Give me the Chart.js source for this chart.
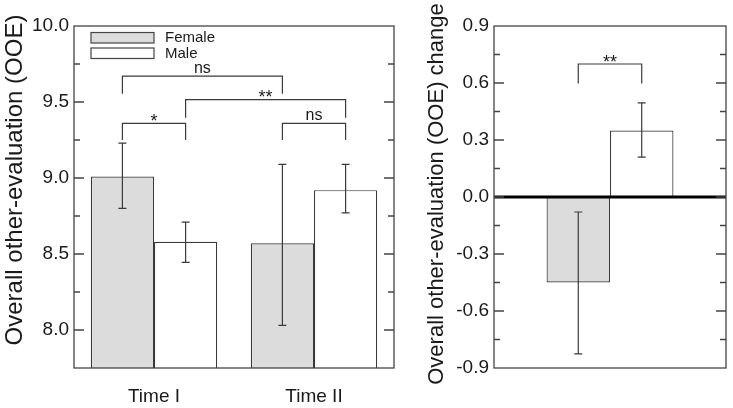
<!DOCTYPE html>
<html>
<head>
<meta charset="utf-8">
<script src="https://cdn.jsdelivr.net/npm/chart.js@4/dist/chart.umd.min.js"></script>
<style>
  body { margin: 0; background: #fff; }
  #wrap { position: relative; width: 733px; height: 408px; }
  #left { position: absolute; left: 0; top: 0; }
  #right { position: absolute; left: 400px; top: 0; }
</style>
</head>
<body>
<div id="wrap">
  <canvas id="left" width="400" height="408"></canvas>
  <canvas id="right" width="333" height="408"></canvas>
</div>
<script>
// --- data ---
const categories = ['Time I', 'Time II'];
const femaleOOE = [9.01, 8.57];
const maleOOE = [8.58, 8.92];
const femaleLow = [8.80, 8.03];
const femaleHigh = [9.23, 9.09];
const maleLow = [8.445, 8.77];
const maleHigh = [8.71, 9.09];
const leftTickLabels = ['8.0', '8.5', '9.0', '9.5', '10.0'];

const changeCategories = [''];
const femaleChange = [-0.45];
const maleChange = [0.35];
const femaleChangeLow = [-0.826];
const femaleChangeHigh = [-0.079];
const maleChangeLow = [0.21];
const maleChangeHigh = [0.495];
const rightTickLabels = ['-0.9', '-0.6', '-0.3', '0.0', '0.3', '0.6', '0.9'];

// significance brackets: [dataset, category] ends, top and leg values in data units
const leftBrackets = [
  {a: [0, 0], b: [1, 0], top: 9.36, leg: 9.25, label: '*'},
  {a: [0, 0], b: [0, 1], top: 9.67, leg: 9.555, label: 'ns'},
  {a: [1, 0], b: [1, 1], top: 9.516, leg: 9.397, label: '**'},
  {a: [0, 1], b: [1, 1], top: 9.36, leg: 9.25, label: 'ns'}
];
const rightBrackets = [
  {a: [0, 0], b: [1, 0], top: 0.70, leg: 0.597, label: '**'}
];

const FONT = "'Liberation Sans', Arial, Helvetica, sans-serif";
const INK = '#1a1a1a';
const EDGE = '#3a3a3a';
const GREY = '#dcdcdc';

function majorLabel(v, labels) {
  const l = labels.find(s => Math.abs(parseFloat(s) - v) < 1e-6);
  return l || '';
}

function figPlugin(cfg) {
  return {
    id: 'fig',
    afterDatasetsDraw(chart) {
      const ctx = chart.ctx;
      const area = chart.chartArea;
      const y = chart.scales.y;
      const barX = (d, c) => chart.getDatasetMeta(d).data[c].x;
      ctx.save();

      // zero line
      if (cfg.zeroLine) {
        const z = y.getPixelForValue(0);
        ctx.strokeStyle = '#000';
        ctx.lineWidth = 3;
        ctx.beginPath();
        ctx.moveTo(area.left, z);
        ctx.lineTo(area.right, z);
        ctx.stroke();
      }

      // error bars
      ctx.strokeStyle = EDGE;
      ctx.lineWidth = 1.2;
      cfg.errors.forEach((e, d) => {
        e.low.forEach((lo, c) => {
          const x = barX(d, c);
          const p1 = y.getPixelForValue(lo);
          const p2 = y.getPixelForValue(e.high[c]);
          ctx.beginPath();
          ctx.moveTo(x, p1); ctx.lineTo(x, p2);
          ctx.moveTo(x - 4, p1); ctx.lineTo(x + 4, p1);
          ctx.moveTo(x - 4, p2); ctx.lineTo(x + 4, p2);
          ctx.stroke();
        });
      });

      // frame
      ctx.strokeStyle = '#444';
      ctx.lineWidth = 1.3;
      ctx.strokeRect(area.left, area.top, area.right - area.left, area.bottom - area.top);

      // inward ticks on both sides
      y.ticks.forEach(t => {
        const p = y.getPixelForValue(t.value);
        if (Math.abs(p - area.top) < 1 || Math.abs(p - area.bottom) < 1) return;
        const len = t.label ? 10 : 6;
        ctx.beginPath();
        ctx.moveTo(area.left, p); ctx.lineTo(area.left + len, p);
        ctx.moveTo(area.right, p); ctx.lineTo(area.right - len, p);
        ctx.stroke();
      });

      // brackets
      ctx.strokeStyle = EDGE;
      ctx.lineWidth = 1.2;
      ctx.fillStyle = INK;
      ctx.textAlign = 'center';
      ctx.textBaseline = 'alphabetic';
      cfg.brackets.forEach(b => {
        const x1 = barX(b.a[0], b.a[1]);
        const x2 = barX(b.b[0], b.b[1]);
        const yt = y.getPixelForValue(b.top);
        const yl = y.getPixelForValue(b.leg);
        ctx.beginPath();
        ctx.moveTo(x1, yl); ctx.lineTo(x1, yt); ctx.lineTo(x2, yt); ctx.lineTo(x2, yl);
        ctx.stroke();
        const star = b.label.indexOf('*') >= 0;
        ctx.font = (star ? 18 : 16) + 'px ' + FONT;
        ctx.fillText(b.label, (x1 + x2) / 2, star ? yt + 3.5 : yt - 3.5);
      });

      // legend inside plot
      if (cfg.legend) {
        const lx = area.left + 17;
        ctx.textAlign = 'left';
        ctx.textBaseline = 'middle';
        ctx.font = '15px ' + FONT;
        chart.data.datasets.forEach((ds, i) => {
          const top = area.top + 6.5 + i * 15.5;
          ctx.fillStyle = ds.backgroundColor;
          ctx.fillRect(lx, top, 63, 10.5);
          ctx.strokeStyle = '#444';
          ctx.lineWidth = 1.2;
          ctx.strokeRect(lx, top, 63, 10.5);
          ctx.fillStyle = INK;
          ctx.fillText(ds.label, lx + 74, top + 5.5);
        });
      }

      // rotated y title
      ctx.translate(cfg.title.x, cfg.title.y);
      ctx.rotate(-Math.PI / 2);
      ctx.textAlign = 'center';
      ctx.textBaseline = 'middle';
      ctx.fillStyle = INK;
      ctx.font = cfg.title.size + 'px ' + FONT;
      ctx.fillText(cfg.title.text, 0, 0);
      ctx.restore();
    }
  };
}

function barSet(label, data, color, cat) {
  return {
    label: label, data: data, backgroundColor: color,
    borderColor: EDGE, borderWidth: 1.2, borderSkipped: false,
    categoryPercentage: cat, barPercentage: 1
  };
}

const tickFont = {family: FONT, size: 19};

new Chart(document.getElementById('left'), {
  type: 'bar',
  data: {
    labels: categories,
    datasets: [
      barSet('Female', femaleOOE, GREY, 0.79),
      barSet('Male', maleOOE, '#ffffff', 0.79)
    ]
  },
  options: {
    responsive: false,
    animation: false,
    layout: {padding: {top: 26, right: 6, left: 0, bottom: 0}},
    plugins: {legend: {display: false}, tooltip: {enabled: false}},
    scales: {
      x: {
        grid: {display: false, drawTicks: false},
        border: {display: false},
        ticks: {padding: 17, color: INK, font: tickFont},
        afterFit: s => { s.height = 40; }
      },
      y: {
        min: 7.75, max: 10,
        grid: {display: false, drawTicks: false},
        border: {display: false},
        ticks: {
          stepSize: 0.25, autoSkip: false, padding: 5, color: INK, font: tickFont,
          callback: v => majorLabel(v, leftTickLabels)
        },
        afterFit: s => { s.width = 74; }
      }
    }
  },
  plugins: [figPlugin({
    errors: [{low: femaleLow, high: femaleHigh}, {low: maleLow, high: maleHigh}],
    brackets: leftBrackets,
    legend: true,
    zeroLine: false,
    title: {text: 'Overall other-evaluation (OOE)', x: 15, y: 180, size: 24}
  })]
});

new Chart(document.getElementById('right'), {
  type: 'bar',
  data: {
    labels: changeCategories,
    datasets: [
      barSet('Female', femaleChange, GREY, 0.547),
      barSet('Male', maleChange, '#ffffff', 0.547)
    ]
  },
  options: {
    responsive: false,
    animation: false,
    layout: {padding: {top: 26, right: 7, left: 0, bottom: 0}},
    plugins: {legend: {display: false}, tooltip: {enabled: false}},
    scales: {
      x: {
        grid: {display: false, drawTicks: false},
        border: {display: false},
        ticks: {display: false},
        afterFit: s => { s.height = 40; }
      },
      y: {
        min: -0.9, max: 0.9,
        grid: {display: false, drawTicks: false},
        border: {display: false},
        ticks: {
          stepSize: 0.15, autoSkip: false, padding: 5, color: INK, font: tickFont,
          callback: v => majorLabel(v, rightTickLabels)
        },
        afterFit: s => { s.width = 94; }
      }
    }
  },
  plugins: [figPlugin({
    errors: [{low: femaleChangeLow, high: femaleChangeHigh}, {low: maleChangeLow, high: maleChangeHigh}],
    brackets: rightBrackets,
    legend: false,
    zeroLine: true,
    title: {text: 'Overall other-evaluation (OOE) change', x: 37, y: 194, size: 22}
  })]
});
</script>
</body>
</html>
